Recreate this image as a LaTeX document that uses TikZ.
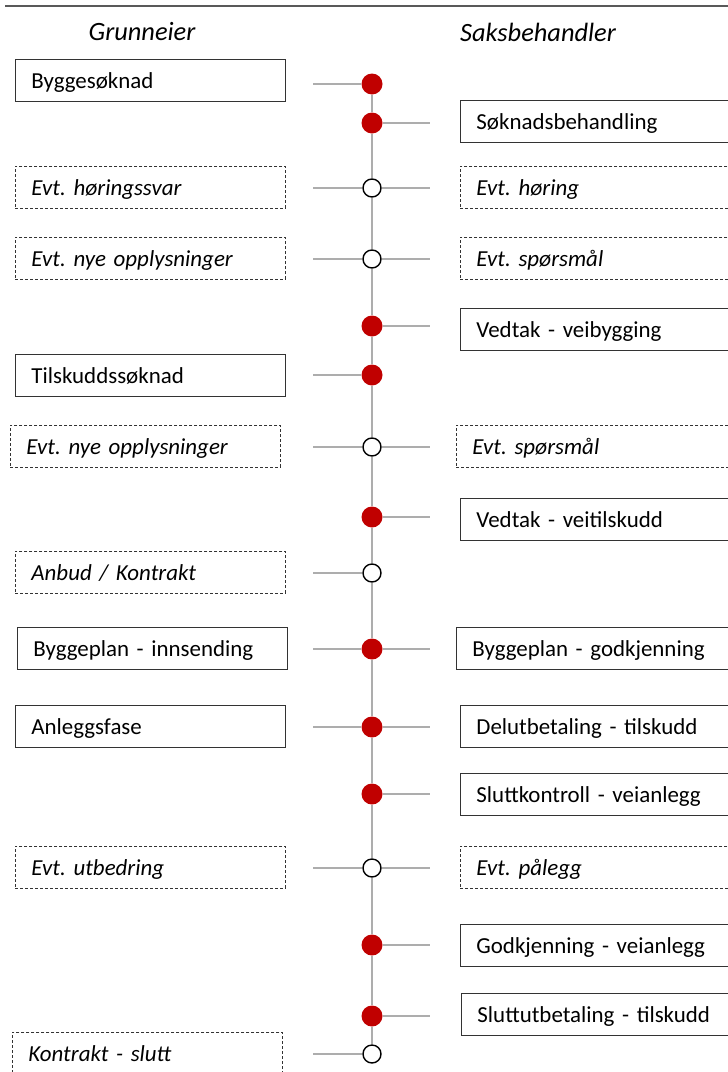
\documentclass[tikz,border=0pt]{standalone}
\usepackage{fontspec}
\setmainfont{Carlito}
\frenchspacing
\definecolor{dotred}{HTML}{C00000}
\definecolor{stemgray}{HTML}{ADADAD}
\begin{document}
\begin{tikzpicture}[x=1bp,y=-1bp]
        \tikzset{box node/.style={draw=black!80, line width=0.9bp, anchor=west, minimum height=42bp, inner xsep=16bp, inner ysep=0pt, text width=238bp, text height=20bp, text depth=4bp, align=left, font=\fontsize{23}{27}\selectfont},
          right box/.style={box node, text width=258bp},
          dashed box/.style={box node, dash pattern=on 3bp off 2bp, font=\fontsize{23}{27}\selectfont\itshape},
          dashed right box/.style={dashed box, text width=258bp},
          header node/.style={font=\fontsize{26.5}{30}\selectfont\itshape},
          red dot/.style={circle, fill=dotred, minimum size=21bp, inner sep=0pt},
          open dot/.style={circle, draw=black, line width=1.4bp, fill=white, minimum size=18bp, inner sep=0pt},
          stem/.style={draw=stemgray, line width=2bp}}
        \useasboundingbox (0,0) rectangle (728,1072);
        \draw[black!65, line width=1.6bp] (5,6) -- (728,6);
        \node[header node] (grunneier) at (142,32) {Grunneier};
        \node[header node] (saksbehandler) at (538,32) {Saksbehandler};
        % Grunneier
        \node[box node] (byggesoknad) at (15,80) {Byggesøknad};
        \node[dashed box] (horingssvar) at (15,187) {Evt. høringssvar};
        \node[dashed box] (opplysninger) at (15,258) {Evt. nye opplysninger};
        \node[box node] (tilskuddssoknad) at (15,375) {Tilskuddssøknad};
        \node[dashed box] (opplysninger2) at (10,446) {Evt. nye opplysninger};
        \node[dashed box] (anbud) at (15,572) {Anbud / Kontrakt};
        \node[box node] (innsending) at (17,648) {Byggeplan - innsending};
        \node[box node] (anleggsfase) at (15,726) {Anleggsfase};
        \node[dashed box] (utbedring) at (15,867) {Evt. utbedring};
        \node[dashed box] (kontraktslutt) at (12,1053) {Kontrakt - slutt};
        % Saksbehandler
        \node[right box] (soknadsbehandling) at (460,121) {Søknadsbehandling};
        \node[dashed right box] (horing) at (460,187) {Evt. høring};
        \node[dashed right box] (sporsmal) at (460,258) {Evt. spørsmål};
        \node[right box] (veibygging) at (460,329) {Vedtak - veibygging};
        \node[dashed right box] (sporsmal2) at (456,446) {Evt. spørsmål};
        \node[right box] (veitilskudd) at (460,519) {Vedtak - veitilskudd};
        \node[right box] (godkjenning) at (456,648) {Byggeplan - godkjenning};
        \node[right box] (delutbetaling) at (460,726) {Delutbetaling - tilskudd};
        \node[right box] (sluttkontroll) at (460,794) {Sluttkontroll - veianlegg};
        \node[dashed right box] (palegg) at (460,867) {Evt. pålegg};
        \node[right box] (veianlegg) at (460,945) {Godkjenning - veianlegg};
        \node[right box] (sluttutbetaling) at (461,1014) {Sluttutbetaling - tilskudd};
        % tidslinje
        \node[red dot] (p1) at (372,84) {};
        \node[red dot] (p2) at (372,123) {};
        \node[open dot] (p3) at (372,188) {};
        \node[open dot] (p4) at (372,259) {};
        \node[red dot] (p5) at (372,326) {};
        \node[red dot] (p6) at (372,375) {};
        \node[open dot] (p7) at (372,447) {};
        \node[red dot] (p8) at (372,517) {};
        \node[open dot] (p9) at (372,573) {};
        \node[red dot] (p10) at (372,649) {};
        \node[red dot] (p11) at (372,727) {};
        \node[red dot] (p12) at (372,794) {};
        \node[open dot] (p13) at (372,868) {};
        \node[red dot] (p14) at (372,945) {};
        \node[red dot] (p15) at (372,1016) {};
        \node[open dot] (p16) at (372,1054) {};
        \foreach \a [count=\b from 2] in {1,...,15}
          \draw[stem] (p\a) -- (p\b);
        \foreach \i in {1,3,4,6,7,9,10,11,13,16} {
          \coordinate (l\i) at ([xshift=-59bp]p\i.center);
          \draw[stem] (p\i) -- (l\i);
        }
        \foreach \i in {2,3,4,5,7,8,10,11,12,13,14,15} {
          \coordinate (r\i) at ([xshift=58bp]p\i.center);
          \draw[stem] (p\i) -- (r\i);
        }
      \end{tikzpicture}
\end{document}
